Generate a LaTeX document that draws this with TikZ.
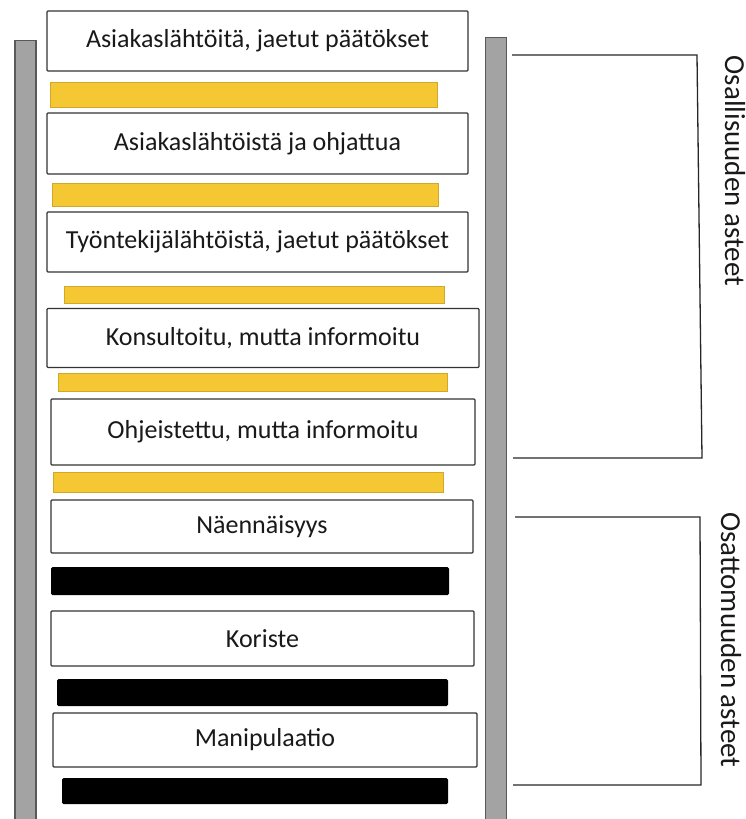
\documentclass[tikz,border=0pt]{standalone}
\usepackage{fontspec}
\setmainfont{Carlito}
\definecolor{railgray}{HTML}{A3A3A3}
\definecolor{baryellow}{HTML}{F5C733}
\begin{document}
\begin{tikzpicture}[x=1pt,y=-1pt,
  every node/.style={font=\fontsize{26}{30}\selectfont,text=black!90},
  rung/.style={draw=black!80,line width=1.3pt,fill=white,rounded corners=1pt,inner sep=0pt},
  ybar/.style={fill=baryellow,draw=baryellow!85!black,line width=0.4pt,inner sep=0pt},
  kbar/.style={fill=black,rounded corners=1.5pt,inner sep=0pt},
  rail/.style={fill=railgray,draw=black!65,line width=1.2pt,inner sep=0pt,minimum width=21pt},
  brk/.style={line width=1.3pt,black!85},
  sidelbl/.style={rotate=-90,font=\fontsize{29}{32}\selectfont}]
\useasboundingbox (0,0) rectangle (746,819);
% side rails
\node[rail,minimum height=800pt,anchor=north] (railL) at (25.5,40) {};
\node[rail,minimum height=800pt,anchor=north] (railR) at (496,37) {};
% rungs with text
\foreach \n/\cx/\cy/\w/\h/\txt in {
  1/257.5/41/421/60/{Asiakaslähtöitä, jaetut päätökset},
  2/257.5/143.5/421/61/{Asiakaslähtöistä ja ohjattua},
  3/257.5/242/421/60/{Työntekijälähtöistä, jaetut päätökset},
  4/263/338/432/59/{Konsultoitu, mutta informoitu},
  5/263/432/424/66/{Ohjeistettu, mutta informoitu},
  6/262/526.5/422/53/{Näennäisyys},
  7/262.5/638.5/423/55/{Koriste},
  8/265/740/424/54/{Manipulaatio}} {
  \node[rung,minimum width=\w pt,minimum height=\h pt] (r\n) at (\cx,\cy) {\txt};
}
% yellow bars
\foreach \n/\cx/\cy/\w/\h in {1/243.5/94.5/387/25,2/245/194.5/386/23,3/254/294.5/380/17,4/252.5/382/389/18,5/248/482/390/20} {
  \node[ybar,minimum width=\w pt,minimum height=\h pt] (y\n) at (\cx,\cy) {};
}
% black bars
\foreach \n/\cx/\cy/\w/\h in {1/250/581/398/28,2/252.5/692.5/391/27,3/255/791/386/26} {
  \node[kbar,minimum width=\w pt,minimum height=\h pt] (k\n) at (\cx,\cy) {};
}
% brackets
\coordinate (uT) at (512,55);
\coordinate (uTR) at (697,55);
\coordinate (uBR) at (702,458);
\coordinate (uB) at (513,458);
\draw[brk] (uT) -- (uTR) -- (uBR) -- (uB);
\coordinate (lT) at (515,517);
\coordinate (lTR) at (700,517);
\coordinate (lBR) at (701,785);
\coordinate (lB) at (513,785);
\draw[brk] (lT) -- (lTR) -- (lBR) -- (lB);
\node[sidelbl] (osal) at (735,171) {Osallisuuden asteet};
\node[sidelbl] (osat) at (731,640) {Osattomuuden asteet};
\end{tikzpicture}
\end{document}
